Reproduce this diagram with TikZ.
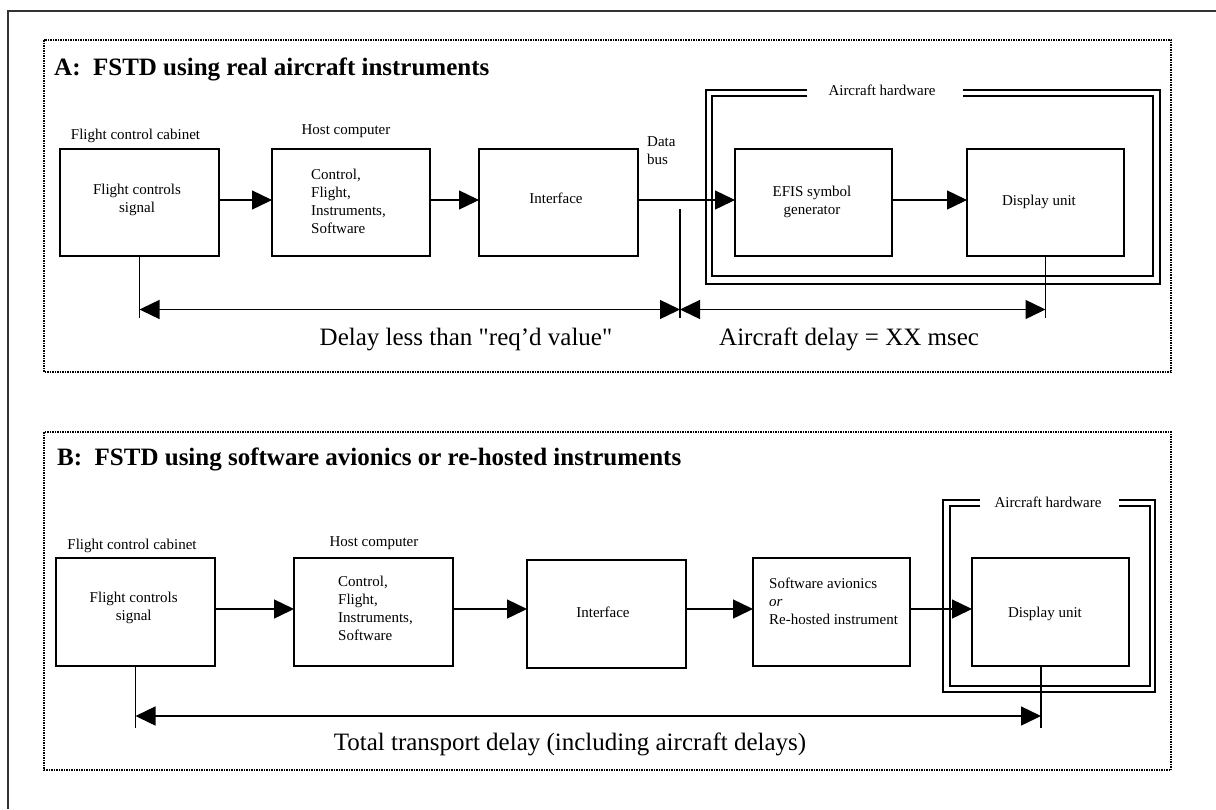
\documentclass[tikz,border=0pt]{standalone}
\usepackage{fontspec}
\setmainfont{Liberation Serif}
\usetikzlibrary{arrows.meta}
\newcommand\mylines[2]{\begin{tabular}[t]{@{}#1@{}}#2\end{tabular}}
\begin{document}
\begin{tikzpicture}[x=1pt,y=-1pt,
  box/.style={draw,line width=1.4pt,inner sep=0pt,outer sep=0pt,minimum width=158pt,minimum height=107pt},
  lbl/.style={inner sep=0pt,font=\fontsize{15}{18}\selectfont},
  big/.style={inner sep=0pt,font=\fontsize{25}{30}\selectfont},
  ttl/.style={inner sep=0pt,font=\fontsize{25}{30}\selectfont\bfseries},
  panel/.style={line width=1.4pt,dash pattern=on 1.5pt off 1pt},
  hw/.style={line width=1.3pt},
  conn/.style={line width=1.4pt},
  arr/.style={conn,-{Triangle[length=20pt,width=19pt]}},
  darr/.style={conn,{Triangle[length=20pt,width=19pt]}-{Triangle[length=20pt,width=19pt]}},
]
\useasboundingbox (0,0) rectangle (1216,809);
% outer frame
\draw[line width=1.6pt,black!80] (1216,11) -- (8,11) -- (8,809);
% panels
\draw[panel] (44,40) rectangle (1171,372);
\draw[panel] (44,432) rectangle (1171,770);
% titles
\node[ttl,anchor=base west] (tA) at (54,75) {A:\hspace{0.5em}FSTD using real aircraft instruments};
\node[ttl,anchor=base west] (tB) at (57,465) {B:\hspace{0.5em}FSTD using software avionics or re-hosted instruments};

% ---------- Panel A ----------
\node[box,minimum width=159pt] (A1) at (139.5,202.5) {};
\node[box] (A2) at (351,202.5) {};
\node[box,minimum width=159pt] (A3) at (558.5,202.5) {};
\node[box,minimum width=157pt] (A4) at (813.5,202.5) {};
\node[box,minimum width=157pt] (A5) at (1045.5,202.5) {};

\node[lbl,anchor=base] (A1c) at (135.5,139) {Flight control cabinet};
\node[lbl,anchor=base] (A1t) at (137,194) {\mylines{c}{Flight controls\\signal}};
\node[lbl,anchor=base] (A2c) at (346,134) {Host computer};
\node[lbl,anchor=base west] (A2t) at (311,179) {\mylines{l}{Control,\\Flight,\\Instruments,\\Software}};
\node[lbl,anchor=base] (A3t) at (556,203) {Interface};
\node[lbl,anchor=base west] (db) at (647,146) {\mylines{l}{Data\\bus}};
\node[lbl,anchor=base] (A4t) at (812,196) {\mylines{c}{EFIS symbol\\generator}};
\node[lbl,anchor=base] (A5t) at (1039,205) {Display unit};

\draw[hw] (807,90) -- (706,90) -- (706,284) -- (1160,284) -- (1160,90) -- (963,90);
\draw[hw] (807,96) -- (712,96) -- (712,276) -- (1153,276) -- (1153,96) -- (963,96);
\node[lbl,anchor=base] (hwA) at (882,95) {Aircraft hardware};

\draw[arr] ([yshift=2.5pt]A1.east) -- ([yshift=2.5pt]A2.west);
\draw[arr] ([yshift=2.5pt]A2.east) -- ([yshift=2.5pt]A3.west);
\draw[arr] ([yshift=2.5pt]A3.east) -- ([yshift=2.5pt]A4.west);
\draw[arr] ([yshift=2.5pt]A4.east) -- ([yshift=2.5pt]A5.west);

\coordinate (a1b) at (139.5,318);
\coordinate (dbt) at (680,209);
\coordinate (dbb) at (680,318);
\coordinate (a5b) at (1045.5,318);
\draw[conn] (A1.south) -- (a1b);
\draw[conn] (dbt) -- (dbb);
\draw[conn] (A5.south) -- (a5b);
\coordinate (dl1) at (139.5,309.5);
\coordinate (dl2) at (680,309.5);
\coordinate (dl3) at (1045.5,309.5);
\draw[darr] (dl1) -- (dl2);
\draw[darr] (dl2) -- (dl3);
\node[big,anchor=base] (dA) at (466,345) {Delay less than \textquotedbl req'd value\textquotedbl};
\node[big,anchor=base west] (dB) at (719,345) {Aircraft delay = XX msec};

% ---------- Panel B ----------
\node[box,minimum width=159pt,minimum height=108pt] (B1) at (135.5,612) {};
\node[box,minimum width=159pt,minimum height=108pt] (B2) at (373.5,612) {};
\node[box,minimum width=159pt,minimum height=108pt] (B3) at (606.5,614) {};
\node[box,minimum width=157pt,minimum height=108pt] (B4) at (831.5,612) {};
\node[box,minimum width=157pt,minimum height=108pt] (B5) at (1050.5,612) {};

\node[lbl,anchor=base] (B1c) at (132,549) {Flight control cabinet};
\node[lbl,anchor=base] (B1t) at (133.7,602) {\mylines{c}{Flight controls\\signal}};
\node[lbl,anchor=base] (B2c) at (374,546) {Host computer};
\node[lbl,anchor=base west] (B2t) at (338,586) {\mylines{l}{Control,\\Flight,\\Instruments,\\Software}};
\node[lbl,anchor=base] (B3t) at (603,617) {Interface};
\node[lbl,anchor=base west] (B4t) at (769,588) {\mylines{l}{Software avionics\\\textit{or}\\Re-hosted instrument}};
\node[lbl,anchor=base] (B5t) at (1045,617) {Display unit};

\draw[hw] (980,500) -- (943,500) -- (943,692) -- (1155,692) -- (1155,500) -- (1119,500);
\draw[hw] (980,506) -- (950,506) -- (950,686) -- (1150,686) -- (1150,506) -- (1119,506);
\node[lbl,anchor=base] (hwB) at (1048,507) {Aircraft hardware};

\draw[arr] ([yshift=3pt]B1.east) -- ([yshift=3pt]B2.west);
\draw[arr] ([yshift=3pt]B2.east) -- ([yshift=5pt]B3.west);
\draw[arr] ([yshift=5pt]B3.east) -- ([yshift=3pt]B4.west);
\draw[arr] ([yshift=3pt]B4.east) -- ([yshift=3pt]B5.west);

\coordinate (b1b) at (135.5,728);
\coordinate (b5s) at (1041,666);
\coordinate (b5b) at (1041,728);
\draw[conn] (B1.south) -- (b1b);
\draw[conn] (b5s) -- (b5b);
\coordinate (dlb1) at (135.5,716);
\coordinate (dlb2) at (1041,716);
\draw[darr] (dlb1) -- (dlb2);
\node[big,anchor=base] (dT) at (570,750) {Total transport delay (including aircraft delays)};
\end{tikzpicture}
\end{document}
